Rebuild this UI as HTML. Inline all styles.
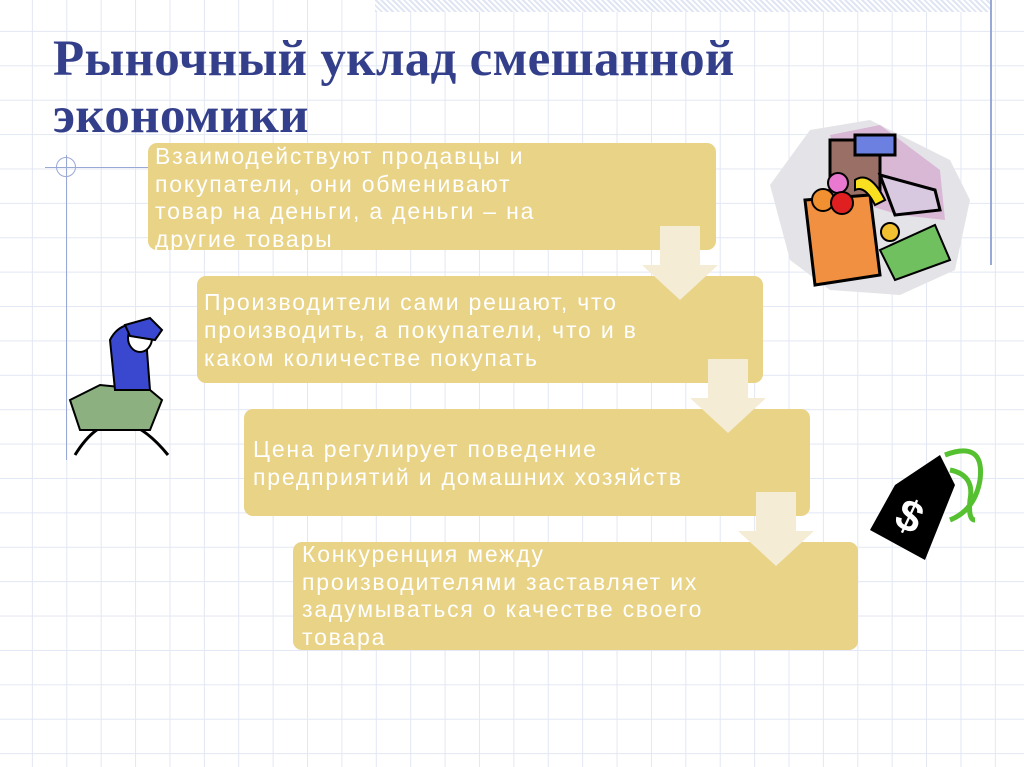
<!DOCTYPE html>
<html><head><meta charset="utf-8"><style>
html,body{margin:0;padding:0}
body{width:1024px;height:767px;position:relative;overflow:hidden;background:#fff;
background-image:repeating-linear-gradient(90deg,transparent 0,transparent 33px,#e2e7f3 33px,#e2e7f3 34px,transparent 34px,transparent 34.4px),
repeating-linear-gradient(180deg,transparent 0,transparent 31px,#e2e7f3 31px,#e2e7f3 32px,transparent 32px,transparent 34.4px);
background-size:34.4px 34.4px;background-position:-1px 0}
.t{position:absolute;left:53px;top:31px;font-family:"Liberation Serif",serif;font-weight:bold;font-size:51px;line-height:57px;letter-spacing:0.3px;color:#333f8a}
.box{position:absolute;background:#e8d387;border-radius:9px;color:#fff;font-family:"Liberation Sans",sans-serif;font-size:23px;line-height:28px;letter-spacing:1.8px;box-sizing:border-box;display:flex;align-items:center}
.ar{position:absolute}
.band{position:absolute;left:375px;top:0;width:616px;height:12px;background:repeating-linear-gradient(45deg,#dfe5f3 0 2px,#fff 2px 4px)}
</style></head><body>
<div class="band"></div>
<div style="position:absolute;left:990px;top:0;width:2px;height:265px;background:#9aa8d6"></div>
<div style="position:absolute;left:66px;top:155px;width:1px;height:305px;background:#9aa8d6"></div>
<div style="position:absolute;left:45px;top:167px;width:103px;height:1px;background:#9aa8d6"></div>
<div style="position:absolute;left:56px;top:157px;width:18px;height:18px;border:1px solid #9aa8d6;border-radius:50%"></div>
<div class="t">Рыночный уклад смешанной<br>экономики</div>

<div class="box" style="left:148px;top:143px;width:568px;height:107px;padding:0 0 0 7px;align-items:flex-start;padding-top:0px;line-height:27.5px">Взаимодействуют продавцы и<br>покупатели, они обменивают<br>товар на деньги, а деньги – на<br>другие товары</div>
<div class="box" style="left:197px;top:276px;width:566px;height:107px;padding-left:7px">Производители сами решают, что<br>производить, а покупатели, что и в<br>каком количестве покупать</div>
<div class="box" style="left:244px;top:409px;width:566px;height:107px;padding-left:9px">Цена регулирует поведение<br>предприятий и домашних хозяйств</div>
<div class="box" style="left:293px;top:542px;width:565px;height:108px;padding-left:9px;line-height:27.5px">Конкуренция между<br>производителями заставляет их<br>задумываться о качестве своего<br>товара</div>

<svg class="ar" style="left:0;top:0" width="1024" height="767">
<g fill="#f4ecd4">
<polygon points="660,226 700,226 700,265 718,265 680,300 642,265 660,265"/>
<polygon points="708,359 748,359 748,398 766,398 728,433 690,398 708,398"/>
<polygon points="756,492 796,492 796,531 814,531 776,566 738,531 756,531"/>
</g>
<polygon points="770,185 810,130 870,120 950,160 970,200 955,270 900,295 830,290 790,260" fill="#e4e4e8"/>
<polygon points="830,135 880,125 940,170 945,220 900,215 850,200" fill="#d9b8d6"/>
<rect x="830" y="140" width="50" height="60" fill="#9a6f66" stroke="#000" stroke-width="3"/>
<rect x="855" y="135" width="40" height="20" fill="#6b80e0" stroke="#000" stroke-width="3"/>
<polygon points="880,175 935,190 940,210 895,215" fill="#d8c8e0" stroke="#000" stroke-width="3"/>
<polygon points="880,250 935,225 950,260 895,280" fill="#70c060" stroke="#000" stroke-width="2"/>
<circle cx="890" cy="232" r="9" fill="#f0c030" stroke="#000" stroke-width="2"/>
<polygon points="805,200 870,195 880,275 815,285" fill="#f09040" stroke="#000" stroke-width="3"/>
<circle cx="838" cy="183" r="10" fill="#e878d0" stroke="#000" stroke-width="2"/>
<circle cx="823" cy="200" r="11" fill="#f09030" stroke="#000" stroke-width="2"/>
<circle cx="842" cy="203" r="11" fill="#e02020" stroke="#000" stroke-width="2"/>
<path d="M855 180 Q870 170 885 200 L875 205 Q865 185 855 190Z" fill="#f8e020" stroke="#000" stroke-width="2"/>
<path d="M75 455 Q115 390 168 455" fill="none" stroke="#000" stroke-width="3"/>
<polygon points="70,400 100,385 150,390 162,400 150,430 80,430" fill="#8cb080" stroke="#000" stroke-width="2"/>
<path d="M110 340 Q120 320 145 325 L150 390 L115 390Z" fill="#3a48d0" stroke="#000" stroke-width="2"/>
<ellipse cx="140" cy="338" rx="12" ry="14" fill="#fff" stroke="#000" stroke-width="2"/>
<polygon points="125,325 150,318 162,330 155,340 130,336" fill="#3a48d0" stroke="#000" stroke-width="2"/>
<polygon points="895,485 940,455 955,485 925,560 870,530" fill="#000"/>
<text x="898" y="532" font-family="Liberation Sans,sans-serif" font-weight="bold" font-size="44" fill="#fff" transform="rotate(25 912 515)">$</text>
<path d="M945 455 Q985 440 980 480 Q975 510 950 520 M950 470 Q975 475 970 500 Q968 520 975 520" fill="none" stroke="#55c030" stroke-width="5"/>
</svg>
</body></html>
